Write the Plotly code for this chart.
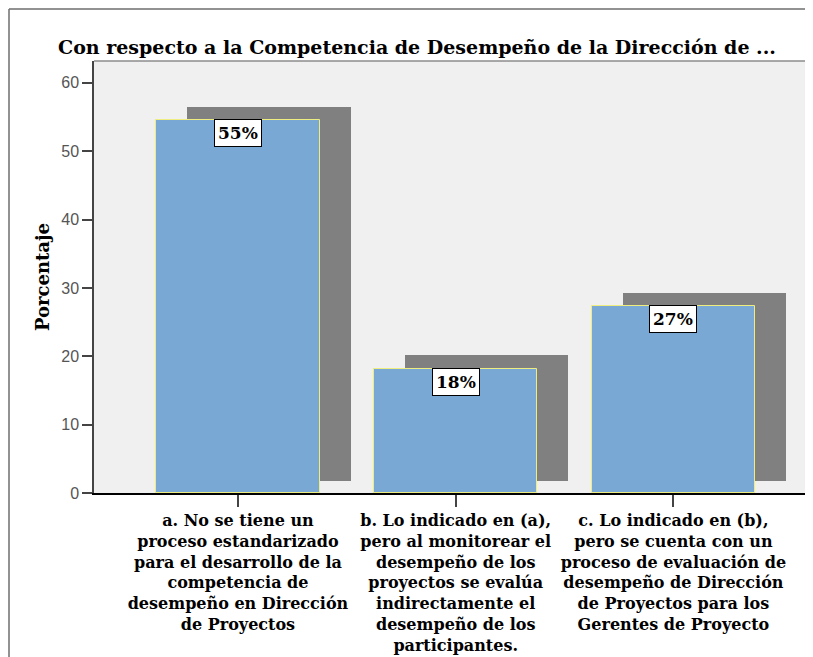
import plotly.graph_objects as go

# Datos del gráfico
categorias = [
    "a. No se tiene un<br>proceso estandarizado<br>para el desarrollo de la<br>competencia de<br>desempeño en Dirección<br>de Proyectos",
    "b. Lo indicado en (a),<br>pero al monitorear el<br>desempeño de los<br>proyectos se evalúa<br>indirectamente el<br>desempeño de los<br>participantes.",
    "c. Lo indicado en (b),<br>pero se cuenta con un<br>proceso de evaluación de<br>desempeño de Dirección<br>de Proyectos para los<br>Gerentes de Proyecto",
]
porcentajes = [54.5, 18.2, 27.3]
etiquetas = ["55%", "18%", "27%"]

titulo = "Con respecto a la Competencia de Desempeño de la Dirección de ..."
titulo_y = "Porcentaje"

# Colores
colores = {
    'barra': '#7AA8D4',
    'borde': '#EEEE80',
    'sombra': '#808080',
    'fondo_plot': '#F0F0F0',
    'marco': '#6E6E6E',
}
fuente_serif = "DejaVu Serif"

# la página html deja 8 px de margen: tamaño = ventana - 8
W, H = 805, 649
ML, MT = 86, 53
alto_plot = 432
MB = H - MT - alto_plot
ancho_plot = W - ML

# sombra desplazada (estilo SPSS)
ancho = 0.75
desplaz = 0.1424
base_sombra = 1.8
alza_sombra = 1.95

fig = go.Figure()

fig.add_trace(go.Bar(
    x=categorias, y=[v + alza_sombra - base_sombra for v in porcentajes],
    base=base_sombra, width=ancho, offset=-ancho / 2 + desplaz,
    marker=dict(color=colores['sombra'], line=dict(width=0)),
    hoverinfo='skip', showlegend=False))

fig.add_trace(go.Bar(
    x=categorias, y=porcentajes, width=ancho,
    marker=dict(color=colores['barra'], line=dict(color=colores['borde'], width=1)),
    showlegend=False))

for cat, v, txt in zip(categorias, porcentajes, etiquetas):
    fig.add_annotation(x=cat, y=v, text="<b>" + txt + "</b>", showarrow=False,
                       yanchor='top', xanchor='center', yshift=1,
                       bgcolor='white', bordercolor='black', borderwidth=1, borderpad=3,
                       font=dict(family=fuente_serif, size=17, color='black'))

# título del eje y
fig.add_annotation(text="<b>" + titulo_y + "</b>", xref='paper', yref='paper',
                   x=(34 - ML) / ancho_plot, y=0.5, textangle=-90, showarrow=False,
                   xanchor='center', yanchor='middle',
                   font=dict(family=fuente_serif, size=18, color='black'))

# marco exterior (solo arriba e izquierda se ven) y borde superior del área
x_marco = (1 - ML) / ancho_plot
y_marco = (alto_plot + MT - 1) / alto_plot
fig.add_shape(type='line', xref='paper', yref='paper',
              x0=x_marco, x1=1.1, y0=y_marco, y1=y_marco,
              line=dict(color=colores['marco'], width=1.5))
fig.add_shape(type='line', xref='paper', yref='paper',
              x0=x_marco, x1=x_marco, y0=-0.5, y1=y_marco,
              line=dict(color=colores['marco'], width=1.5))
fig.add_shape(type='line', xref='paper', yref='paper', x0=0, x1=1, y0=1, y1=1,
              line=dict(color='#8C8C8C', width=1.5))

fig.update_layout(
    width=W, height=H,
    margin=dict(l=ML, r=0, t=MT, b=MB, autoexpand=False),
    paper_bgcolor='white', plot_bgcolor=colores['fondo_plot'],
    barmode='overlay', bargap=0,
    title=dict(text="<b>" + titulo + "</b>", x=409 / W, xref='container', xanchor='center',
               y=1 - 39 / H, yanchor='middle',
               font=dict(family=fuente_serif, size=19, color='black')),
    xaxis=dict(type='category', range=[-0.661, 2.641], showgrid=False, zeroline=False,
               showline=True, linecolor='black', linewidth=1.5, automargin=False,
               ticks='outside', ticklen=12, tickcolor='#444', tickwidth=1.5,
               tickvals=categorias, ticktext=["<b>" + c + "</b>" for c in categorias],
               tickfont=dict(family=fuente_serif, size=16, color='black')),
    yaxis=dict(range=[0, 63.2], dtick=10, showgrid=False, zeroline=False,
               showline=True, linecolor='#444', linewidth=1.5, automargin=False,
               ticks='outside', ticklen=10, tickcolor='#444', tickwidth=1.5,
               tickfont=dict(family="Liberation Sans, Arial", size=16, color='#555')),
)

fig.write_html("out.html")
